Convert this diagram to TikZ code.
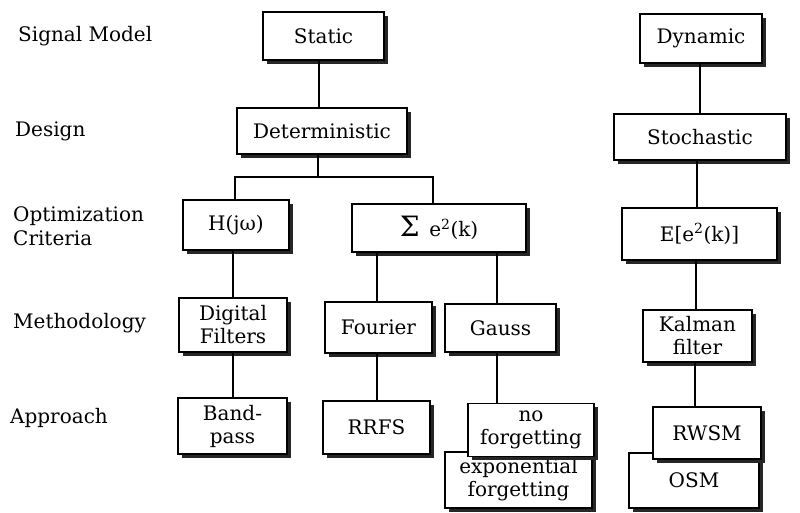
\documentclass[tikz,border=0pt]{standalone}
\usepackage{fontspec}
\setmainfont{DejaVu Serif}
\usetikzlibrary{shadows}
\begin{document}
\begin{tikzpicture}[x=1pt,y=-1pt,
  box/.style={draw=black, line width=1.5pt, fill=white, inner sep=0pt, align=center,
    font=\fontsize{20}{23}\selectfont,
    drop shadow={shadow xshift=3.5pt, shadow yshift=-3.5pt, fill=black!85, opacity=1}},
  lbl/.style={anchor=west, align=left, inner sep=0pt, font=\fontsize{20}{24}\selectfont},
  conn/.style={draw=black, line width=1.4pt}]
\useasboundingbox (0,0) rectangle (800,512);
% left labels
\node[lbl] (l1) at (18,36) {Signal Model};
\node[lbl] (l2) at (15,131) {Design};
\node[lbl] (l3) at (13,226) {Optimization\\Criteria};
\node[lbl] (l4) at (13,323) {Methodology};
\node[lbl] (l5) at (10,418) {Approach};
% boxes
\node[box, minimum width=121, minimum height=48] (static) at (323.5,36) {Static};
\node[box, minimum width=122, minimum height=49] (dynamic) at (701,38.5) {Dynamic};
\node[box, minimum width=170, minimum height=46] (det) at (322,131) {Deterministic};
\node[box, minimum width=172, minimum height=46] (sto) at (700,137) {Stochastic};
\node[box, minimum width=106, minimum height=50] (hjw) at (236,225) {H(jω)};
\node[box, minimum width=174, minimum height=48] (sig) at (439,228) {{\fontsize{28}{28}\selectfont Σ}\, e\textsuperscript{2}(k)};
\node[box, minimum width=155, minimum height=52] (E) at (699.5,234) {E[e\textsuperscript{2}(k)]};
\node[box, minimum width=108, minimum height=54] (digital) at (233,325) {Digital\\Filters};
\node[box, minimum width=107, minimum height=51] (fourier) at (378.5,327.5) {Fourier};
\node[box, minimum width=111, minimum height=48] (gauss) at (500.5,328) {Gauss};
\node[box, minimum width=109, minimum height=52] (kalman) at (697.5,336) {Kalman\\filter};
\node[box, minimum width=109, minimum height=56] (band) at (232.5,426) {Band-\\pass};
\node[box, minimum width=107, minimum height=53] (rrfs) at (376.5,427.5) {RRFS};
\node[box, minimum width=147, minimum height=56] (expo) at (518.5,480) {exponential\\forgetting};
\node[box, minimum width=126, minimum height=53] (nof) at (531,430) {no\\forgetting};
\node[box, minimum width=130, minimum height=55] (osm) at (694,480.5) {OSM};
\node[box, minimum width=108, minimum height=52] (rwsm) at (707,433) {RWSM};
% branch points
\coordinate (brL) at (235,177);
\coordinate (brR) at (433,177);
% connectors
\draw[conn] (static.south -| det.north) ++(-3,0) coordinate (s1) -- (s1 |- det.north);
\draw[conn] (det.south) ++(-4,0) coordinate (d1) -- (d1 |- brL);
\draw[conn] (brL |- hjw.north) -- (brL) -- (brR) -- (brR |- sig.north);
\draw[conn] (dynamic.south) ++(-1,0) coordinate (y1) -- (y1 |- sto.north);
\draw[conn] (sto.south) ++(-3,0) coordinate (y2) -- (y2 |- E.north);
\draw[conn] (E.south) ++(-3.5,0) coordinate (y3) -- (y3 |- kalman.north);
\draw[conn] (kalman.south) ++(-2.5,0) coordinate (y4) -- (y4 |- rwsm.north);
\draw[conn] (digital.north) -- (digital.north |- hjw.south);
\draw[conn] (digital.south) -- (digital.south |- band.north);
\draw[conn] (fourier.north) ++(-1.5,0) coordinate (f1) -- (f1 |- sig.south);
\draw[conn] (fourier.south) ++(-1.5,0) coordinate (f2) -- (f2 |- rrfs.north);
\draw[conn] (gauss.north) ++(-3.5,0) coordinate (g1) -- (g1 |- sig.south);
\draw[conn] (gauss.south) ++(-3.5,0) coordinate (g2) -- (g2 |- nof.north);
\end{tikzpicture}
\end{document}
